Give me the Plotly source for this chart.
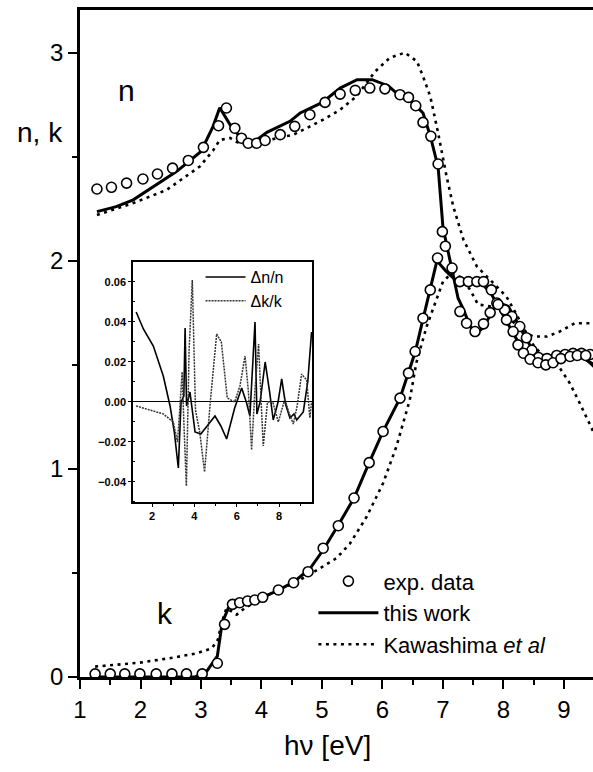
import plotly.graph_objects as go

# ---------------- main panel data ----------------
exp_n_x = [1.28, 1.52, 1.77, 2.04, 2.28, 2.53, 2.79, 3.04, 3.29, 3.42, 3.56, 3.67, 3.78, 3.92, 4.06,
           4.31, 4.55, 4.80, 5.05, 5.30, 5.55, 5.79, 6.04, 6.29, 6.43, 6.55, 6.67, 6.80, 6.92, 6.99,
           7.04, 7.15, 7.28, 7.39, 7.53, 7.67, 7.78, 7.89, 8.02, 8.14, 8.27, 8.38, 8.47, 8.58, 8.72,
           8.88, 9.02, 9.15, 9.29, 9.43]
exp_n_y = [2.345, 2.353, 2.373, 2.393, 2.417, 2.445, 2.482, 2.545, 2.649, 2.734, 2.637, 2.589, 2.565,
           2.565, 2.578, 2.606, 2.646, 2.702, 2.761, 2.801, 2.819, 2.830, 2.826, 2.798, 2.785, 2.745,
           2.665, 2.598, 2.465, 2.14, 2.07, 1.965, 1.756, 1.70, 1.66, 1.697, 1.751, 1.797, 1.764,
           1.732, 1.684, 1.63, 1.57, 1.535, 1.53, 1.545, 1.55, 1.555, 1.555, 1.55]

exp_k_x = [1.25, 1.50, 1.74, 1.99, 2.26, 2.52, 2.76, 3.02, 3.27, 3.39, 3.52, 3.64, 3.77, 3.89, 4.02,
           4.28, 4.53, 4.77, 5.02, 5.27, 5.53, 5.78, 6.01, 6.29, 6.43, 6.54, 6.67, 6.79, 6.91, 7.28,
           7.42, 7.56, 7.67, 7.80, 7.91, 8.05, 8.16, 8.24, 8.33, 8.44, 8.57, 8.70, 8.82, 8.95, 9.10,
           9.22, 9.36, 9.50]
exp_k_y = [0.015, 0.015, 0.015, 0.015, 0.015, 0.015, 0.015, 0.015, 0.066, 0.253, 0.349, 0.357, 0.365,
           0.37, 0.383, 0.418, 0.453, 0.506, 0.619, 0.727, 0.86, 1.03, 1.18, 1.34, 1.46, 1.564, 1.724,
           1.86, 2.013, 1.90, 1.90, 1.90, 1.90, 1.86, 1.79, 1.716, 1.66, 1.596, 1.556, 1.527, 1.51,
           1.50, 1.51, 1.53, 1.54, 1.545, 1.545, 1.54]

fit_n_x = [1.28, 1.6, 1.88, 2.27, 2.6, 3.0, 3.2, 3.31, 3.5, 3.78, 4.09, 4.47, 4.64, 5.0, 5.3, 5.58,
           5.83, 6.1, 6.29, 6.5, 6.67, 6.79, 6.92, 7.0, 7.17, 7.25, 7.34, 7.45, 7.56, 7.67, 7.83, 7.91,
           8.08, 8.27, 8.41, 8.49, 8.71, 9.0, 9.3, 9.5]
fit_n_y = [2.236, 2.26, 2.293, 2.365, 2.43, 2.525, 2.646, 2.735, 2.645, 2.55, 2.617, 2.67, 2.71, 2.76,
           2.83, 2.87, 2.87, 2.84, 2.79, 2.76, 2.71, 2.60, 2.45, 2.16, 1.925, 1.82, 1.765, 1.684,
           1.652, 1.68, 1.765, 1.80, 1.78, 1.68, 1.61, 1.56, 1.53, 1.55, 1.545, 1.49]

fit_k_x = [1.25, 2.0, 2.9, 3.1, 3.27, 3.35, 3.45, 3.55, 3.7, 4.0, 4.3, 4.55, 4.8, 5.02, 5.27, 5.53,
           5.78, 6.01, 6.29, 6.43, 6.54, 6.67, 6.79, 6.9, 7.05, 7.2, 7.4, 7.65, 7.8, 7.95, 8.19, 8.3,
           8.49, 8.7, 9.0, 9.3, 9.5]
fit_k_y = [0.0, 0.0, 0.0, 0.03, 0.1, 0.26, 0.33, 0.35, 0.36, 0.38, 0.42, 0.46, 0.52, 0.61, 0.73, 0.86,
           1.03, 1.18, 1.34, 1.46, 1.56, 1.72, 1.86, 2.0, 1.95, 1.91, 1.90, 1.89, 1.84, 1.76, 1.636,
           1.58, 1.537, 1.51, 1.53, 1.535, 1.50]

kaw_n_x = [1.28, 1.88, 2.43, 2.98, 3.2, 3.31, 3.48, 3.6, 3.8, 4.1, 4.53, 4.75, 5.02, 5.30, 5.57, 5.88,
           6.12, 6.37, 6.57, 6.67, 6.79, 6.92, 7.06, 7.17, 7.34, 7.56, 7.83, 8.05, 8.2, 8.38, 8.49,
           8.72, 8.93, 9.18, 9.43, 9.5]
kaw_n_y = [2.22, 2.277, 2.34, 2.453, 2.53, 2.58, 2.59, 2.57, 2.56, 2.58, 2.606, 2.638, 2.678, 2.726,
           2.79, 2.91, 2.975, 3.0, 2.958, 2.886, 2.79, 2.614, 2.405, 2.261, 2.10, 1.973, 1.893, 1.828,
           1.75, 1.652, 1.636, 1.636, 1.66, 1.70, 1.70, 1.70]

kaw_k_x = [1.25, 1.99, 2.54, 2.93, 3.18, 3.28, 3.34, 3.42, 3.59, 3.72, 4.0, 4.3, 4.6, 4.97, 5.24,
           5.46, 5.74, 6.01, 6.23, 6.45, 6.56, 6.73, 6.87, 7.0, 7.14, 7.3, 7.45, 7.58, 7.8, 8.0, 8.3,
           8.6, 8.93, 9.1, 9.26, 9.46, 9.5]
kaw_k_y = [0.05, 0.069, 0.093, 0.114, 0.138, 0.18, 0.258, 0.33, 0.30, 0.33, 0.38, 0.42, 0.46, 0.523,
           0.571, 0.64, 0.771, 0.931, 1.107, 1.33, 1.51, 1.684, 1.80, 1.90, 1.94, 1.92, 1.86, 1.79,
           1.78, 1.76, 1.66, 1.56, 1.485, 1.41, 1.316, 1.20, 1.17]

main_xticks = [1, 2, 3, 4, 5, 6, 7, 8, 9]
main_yticks = [0, 1, 2, 3]

# ---------------- inset data ----------------
dn_x = [1.25, 1.59, 2.06, 2.53, 2.85, 3.05, 3.24, 3.37, 3.5, 3.56, 3.63, 3.79, 4.03, 4.3, 4.6, 4.97,
        5.25, 5.52, 5.9, 6.23, 6.45, 6.62, 6.86, 6.95, 7.1, 7.34, 7.55, 7.72, 7.95, 8.12, 8.3, 8.51,
        8.7, 8.83, 9.14, 9.35, 9.53]
dn_y = [0.045, 0.0365, 0.028, 0.013, -0.002, -0.015, -0.033, 0.0, 0.003, 0.037, -0.002, 0.005,
        -0.015, -0.016, -0.012, -0.007, -0.012, -0.0185, -0.003, 0.007, 0.0, -0.007, 0.040, -0.006,
        0.0, 0.020, 0.005, -0.009, 0.0, 0.0115, -0.001, -0.008, -0.006, -0.009, -0.005, 0.010, 0.035]

dk_x = [1.25, 1.9, 2.53, 3.0, 3.2, 3.3, 3.42, 3.5, 3.62, 3.75, 3.9, 4.05, 4.25, 4.48, 4.75, 5.05,
        5.27, 5.55, 5.9, 6.15, 6.39, 6.55, 6.7, 6.85, 7.03, 7.15, 7.25, 7.45, 7.7, 7.96, 8.27, 8.45,
        8.67, 8.85, 9.06, 9.3, 9.45, 9.53]
dk_y = [-0.002, -0.004, -0.006, -0.01, -0.02, -0.005, 0.015, -0.01, -0.042, 0.026, 0.061, -0.004,
        -0.015, -0.035, 0.0, 0.034, 0.030, 0.002, 0.0, 0.008, 0.023, 0.005, -0.024, 0.005, 0.029,
        0.0, -0.022, 0.0, 0.0, -0.01, 0.0015, -0.005, -0.011, -0.002, 0.014, 0.011, -0.008, 0.0]

inset_xticks = [2, 4, 6, 8]
inset_yticks = [-0.04, -0.02, 0.0, 0.02, 0.04, 0.06]

FONT = "Liberation Sans, Arial, sans-serif"
BLK = "#000000"
DOTDASH = "3px,4.5px"

fig = go.Figure()

# Kawashima (dotted)
fig.add_trace(go.Scatter(x=kaw_n_x, y=kaw_n_y, mode="lines", line=dict(color=BLK, width=2.6, dash=DOTDASH),
                         name="Kawashima <i>et al</i>", legendrank=3, showlegend=True))
fig.add_trace(go.Scatter(x=kaw_k_x, y=kaw_k_y, mode="lines", line=dict(color=BLK, width=2.6, dash=DOTDASH),
                         showlegend=False))
# this work (solid)
fig.add_trace(go.Scatter(x=fit_n_x, y=fit_n_y, mode="lines", line=dict(color=BLK, width=3),
                         name="this work", legendrank=2, showlegend=True))
fig.add_trace(go.Scatter(x=fit_k_x, y=fit_k_y, mode="lines", line=dict(color=BLK, width=3),
                         showlegend=False))
# exp data (circles)
circ = dict(symbol="circle", size=10, color="white", line=dict(color=BLK, width=1.6))
fig.add_trace(go.Scatter(x=exp_n_x, y=exp_n_y, mode="markers", marker=circ,
                         name="exp. data", legendrank=1, showlegend=True))
fig.add_trace(go.Scatter(x=exp_k_x, y=exp_k_y, mode="markers", marker=circ,
                         showlegend=False, cliponaxis=False))

# inset traces
fig.add_trace(go.Scatter(x=dn_x, y=dn_y, mode="lines", xaxis="x2", yaxis="y2",
                         line=dict(color=BLK, width=1.6), name="Δn/n", legend="legend2"))
fig.add_trace(go.Scatter(x=dk_x, y=dk_y, mode="lines", xaxis="x2", yaxis="y2",
                         line=dict(color="#333333", width=1.5, dash="2px,1px"), name="Δk/k",
                         legend="legend2"))

fig.update_layout(
    width=593, height=772,
    margin=dict(l=80, r=0, t=10, b=95),
    paper_bgcolor="white", plot_bgcolor="white",
    font=dict(family=FONT, color=BLK),
    xaxis=dict(range=[1, 9.48], tickvals=main_xticks, ticks="outside", ticklen=9, tickwidth=2,
               tickcolor=BLK, showline=True, linecolor=BLK, linewidth=2.5, mirror=True,
               showgrid=False, zeroline=False, tickfont=dict(size=24),
               minor=dict(dtick=0.5, tick0=1, ticks="outside", ticklen=5, tickwidth=1.5, tickcolor=BLK)),
    yaxis=dict(range=[0, 3.205], tickvals=main_yticks, ticks="outside", ticklen=9, tickwidth=2,
               tickcolor=BLK, showline=True, linecolor=BLK, linewidth=2.5, mirror=False,
               showgrid=False, zeroline=False, tickfont=dict(size=24),
               minor=dict(dtick=0.5, tick0=0, ticks="outside", ticklen=5, tickwidth=1.5, tickcolor=BLK)),
    xaxis2=dict(domain=[0.1033, 0.4522], anchor="y2", range=[1.1, 9.55], tickvals=inset_xticks,
                ticks="outside", ticklen=3, tickwidth=1, tickcolor=BLK, showline=True, linecolor=BLK,
                linewidth=1.5, mirror=True, showgrid=False, zeroline=False,
                tickfont=dict(size=11, weight="bold"),
                minor=dict(dtick=1, ticks="outside", ticklen=2, tickcolor=BLK)),
    yaxis2=dict(domain=[0.2624, 0.6222], anchor="x2", range=[-0.05, 0.07], tickvals=inset_yticks,
                tickformat=".2f", ticks="outside", ticklen=3, tickwidth=1, tickcolor=BLK, showline=True,
                linecolor=BLK, linewidth=1.5, mirror=True, showgrid=False, zeroline=True,
                zerolinecolor=BLK, zerolinewidth=1, tickfont=dict(size=11, weight="bold"),
                minor=dict(dtick=0.01, ticks="inside", ticklen=2, tickcolor=BLK)),
    legend=dict(x=0.455, y=0.175, xanchor="left", yanchor="top", bgcolor="rgba(0,0,0,0)",
                font=dict(size=22, family=FONT), itemwidth=60, tracegroupgap=0),
    legend2=dict(x=0.235, y=0.625, xanchor="left", yanchor="top", bgcolor="rgba(0,0,0,0)",
                 font=dict(size=16, family=FONT), itemwidth=40),
    annotations=[
        dict(text="n, k", x=-0.078, y=0.8156, xref="paper", yref="paper", showarrow=False,
             font=dict(size=28), xanchor="center", yanchor="middle"),
        dict(text="hν [eV]", x=0.4815, y=-0.102, xref="paper", yref="paper", showarrow=False,
             font=dict(size=28), xanchor="center", yanchor="middle"),
        dict(text="n", x=0.0897, y=0.880, xref="paper", yref="paper", showarrow=False,
             font=dict(size=30), xanchor="center", yanchor="middle"),
        dict(text="k", x=0.166, y=0.0955, xref="paper", yref="paper", showarrow=False,
             font=dict(size=30), xanchor="center", yanchor="middle"),
    ],
)

fig.write_html("out.html", config={"displayModeBar": False},
               post_script="document.body.style.margin='0';document.body.style.overflow='hidden';")
